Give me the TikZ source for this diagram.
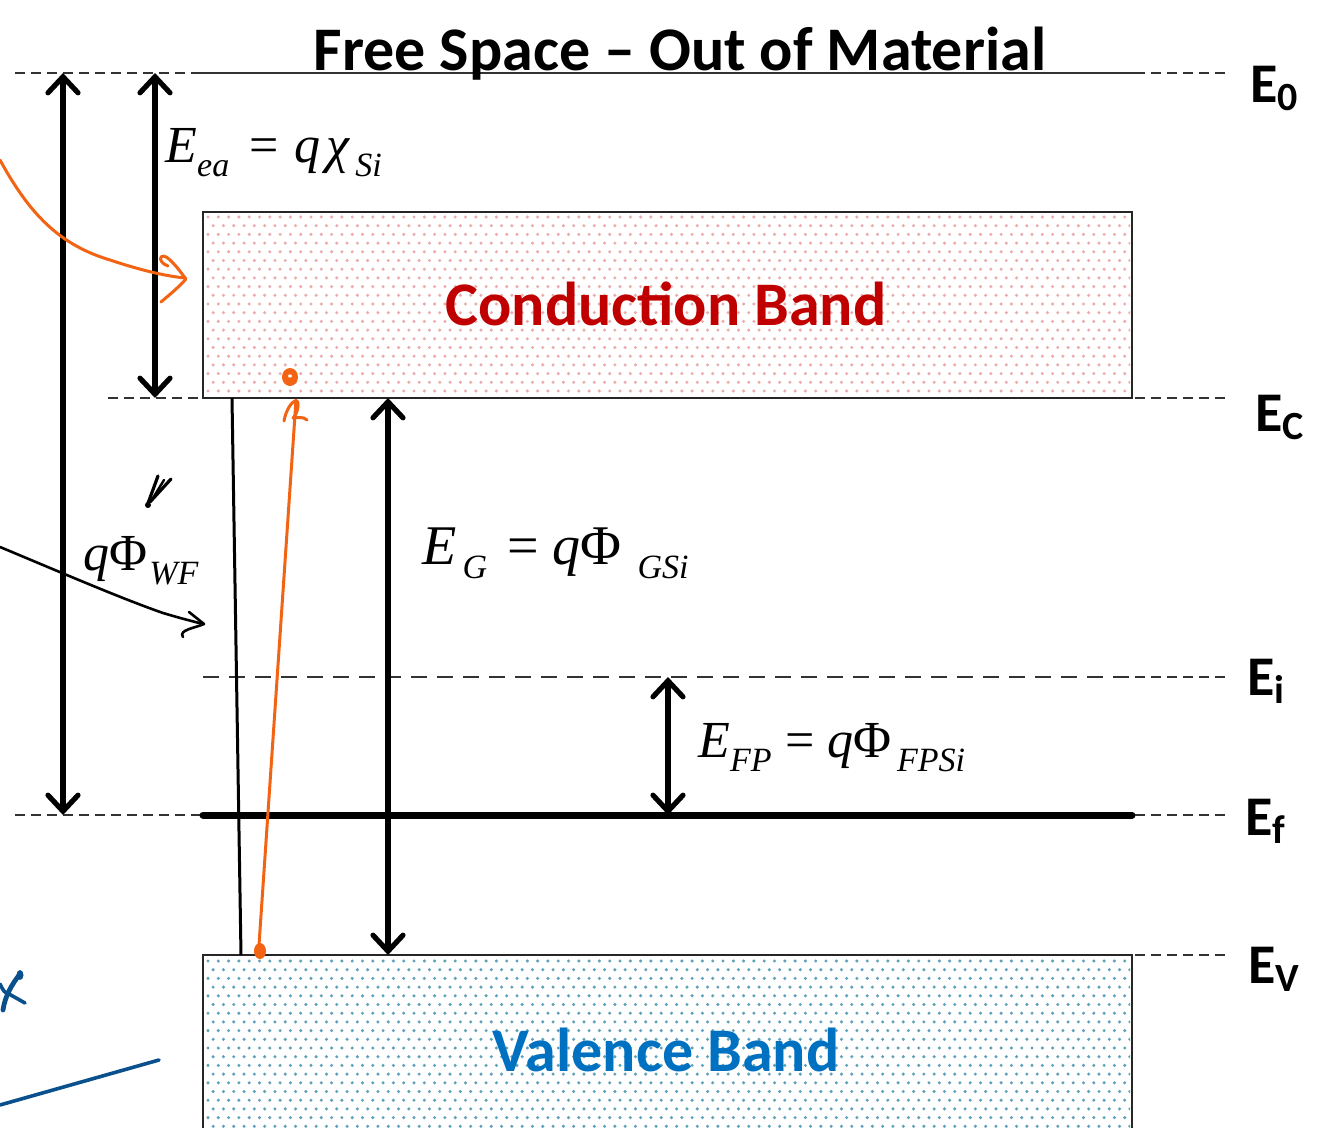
\documentclass[tikz,border=0pt]{standalone}
\usepackage{fontspec}
\newfontfamily\calib{Carlito}
\newfontfamily\tms{Liberation Serif}
\usetikzlibrary{arrows.meta}
\definecolor{cbred}{RGB}{192,0,0}
\definecolor{vbblue}{RGB}{0,112,192}
\definecolor{inkorange}{RGB}{242,100,20}
\definecolor{inkblue}{RGB}{10,80,140}
\definecolor{lvlgray}{RGB}{50,50,50}
\definecolor{cbdot}{RGB}{236,172,172}
\definecolor{vbdot}{RGB}{95,162,185}
\newcommand\lsub[1]{\raisebox{-7pt}{\fontsize{17}{17}\selectfont #1}}
\newcommand\esub[1]{\raisebox{-4pt}{\fontsize{20}{20}\selectfont #1}}
\tikzset{
 lvl/.style={draw=lvlgray, line width=1pt, dash pattern=on 5pt off 3pt},
 midlvl/.style={draw=lvlgray, line width=1pt, dash pattern=on 8pt off 5pt},
 barrow/.style={line width=2.6pt, {Straight Barb[length=8pt,width=15pt,line cap=round]}-{Straight Barb[length=8pt,width=15pt,line cap=round]}},
 band/.style={draw=black!85, line width=1pt},
 lvllabel/.style={anchor=base west, inner sep=0pt, font=\calib\bfseries\fontsize{28}{28}\selectfont},
 bandtext/.style={anchor=base, inner sep=0pt, font=\calib\bfseries\fontsize{31}{31}\selectfont},
 eq/.style={anchor=base west, inner sep=0pt, font=\tms\fontsize{26}{26}\selectfont},
 ink/.style={line width=1.5pt, line cap=round, line join=round},
}
\begin{document}
\begin{tikzpicture}[x=0.5pt,y=-0.5pt]
\useasboundingbox (0,0) rectangle (1323,1128);
\fill[white] (0,0) rectangle (1323,1128);
\clip (0,0) rectangle (1323,1128);
% band dots
\begin{scope}
\clip (205,214) rectangle (1130,396);
\fill[cbdot] \foreach \r in {0,...,21} { \foreach \c in {0,...,90} { ({208+\c*10.3+mod(\r,2)*5.15},{217+\r*8.7}) circle (1.7) } };
\end{scope}
\begin{scope}
\clip (205,957) rectangle (1130,1128);
\fill[vbdot] \foreach \r in {0,...,20} { \foreach \c in {0,...,90} { ({208+\c*10.3+mod(\r,2)*5.15},{961+\r*8.7}) circle (1.7) } };
\end{scope}
% bands
\draw[band] (203,212) rectangle (1132,398);
\draw[band] (203,955) rectangle (1132,1140);
% levels
\draw[lvl] (15,73) -- (200,73);
\draw[draw=lvlgray, line width=1pt] (200,73) -- (1135,73);
\draw[lvl] (1135,73) -- (1225,73);
\draw[lvl] (108,398) -- (203,398);
\draw[lvl] (1135,398) -- (1225,398);
\draw[midlvl] (203,677) -- (1130,677);
\draw[lvl] (1135,677) -- (1225,677);
\draw[lvl] (15,815) -- (200,815);
\draw[line width=3.5pt, line cap=round] (203,815) -- (1132,815);
\draw[lvl] (1135,815) -- (1225,815);
\draw[lvl] (1135,955) -- (1225,955);
% arrows
\draw[barrow] (63,73) -- (63,815);
\draw[barrow] (155,73) -- (155,398);
\draw[barrow] (388,398) -- (388,955);
\draw[barrow] (668,677) -- (668,815);
% thin line
\draw[line width=1.5pt] (232,398) -- (241,955);
% title
\node[anchor=base, inner sep=0pt, font=\calib\bfseries\fontsize{31}{31}\selectfont] (title) at (680,71) {Free Space – Out of Material};
% band texts
\node[bandtext, text=cbred] (cb) at (666,326) {Conduction Band};
\node[bandtext, text=vbblue] (vb) at (666,1071) {Valence Band};
% equations
\node[eq] (eea) at (165,163) {\itshape E\lsub{ea}\hspace{10pt}\upshape=\hspace{8pt}\itshape q\hspace{3pt}χ\lsub{\hspace{3pt}Si}};
\node[eq] (wf) at (83,570) {\itshape q\upshape Φ\itshape\lsub{\hspace{1pt}WF}};
\node[eq, font=\tms\fontsize{28}{28}\selectfont] (eg) at (422,565) {\itshape E\lsub{\hspace{3pt}G}\hspace{10pt}\upshape=\hspace{7pt}\itshape q\upshape Φ\itshape\lsub{\hspace{8pt}GSi}};
\node[eq] (efp) at (698,757) {\itshape E\lsub{FP}\hspace{7pt}\upshape=\hspace{6pt}\itshape q\upshape Φ\itshape\lsub{\hspace{3pt}FPSi}};
% level labels
\node[lvllabel] (l0) at (1250,103) {E\esub{0}};
\node[lvllabel] (lc) at (1255,432) {E\esub{C}};
\node[lvllabel] (li) at (1247,695) {E\esub{i}};
\node[lvllabel] (lf) at (1245,835) {E\esub{f}};
\node[lvllabel] (lv) at (1248,983) {E\esub{V}};
% orange ink
\draw[inkorange, ink] (259,945) -- (296,400);
\draw[inkorange, ink] (284,421) .. controls (286,410) and (292,400) .. (297,401) .. controls (300,405) and (296,416) .. (293,418) .. controls (297,418) and (303,416) .. (307,420);
\fill[inkorange] (290,377) ellipse (8 and 9);
\fill[white] (290,376) ellipse (2 and 1.6);
\fill[inkorange] (260,951) ellipse (6 and 8);
\draw[inkorange, ink] (0,160) .. controls (30,215) and (60,245) .. (110,260) .. controls (140,270) and (165,276) .. (185,278);
\draw[inkorange, ink] (168,266) .. controls (156,262) and (160,250) .. (170,260) .. controls (176,266) .. (186,279) .. controls (178,288) and (168,296) .. (161,302);
% black ink
\draw[ink, line width=1.3pt] (0,547) .. controls (60,572) and (120,598) .. (163,613) .. controls (180,618) .. (203,624);
\draw[ink, line width=1.3pt] (189,612) -- (204,624) .. controls (195,628) and (178,630) .. (183,637);
\draw[ink, line width=1.6pt] (147,506) -- (158,476);
\draw[ink, line width=1.6pt] (150,502) -- (171,479);
\draw[ink, line width=1.2pt] (153,498) -- (164,480);
\fill (148,505) circle (3);
% blue ink
\draw[inkblue, ink, line width=1.8pt] (0,1105) -- (159,1060);
\draw[inkblue, ink, line width=2.4pt] (3,1010) .. controls (5,996) and (12,984) .. (20,974);
\fill[inkblue] (20,975) ellipse (3.5 and 5);
\draw[inkblue, ink, line width=1.8pt] (0,984) .. controls (4,992) .. (9,994) -- (25,1003);
\end{tikzpicture}
\end{document}
